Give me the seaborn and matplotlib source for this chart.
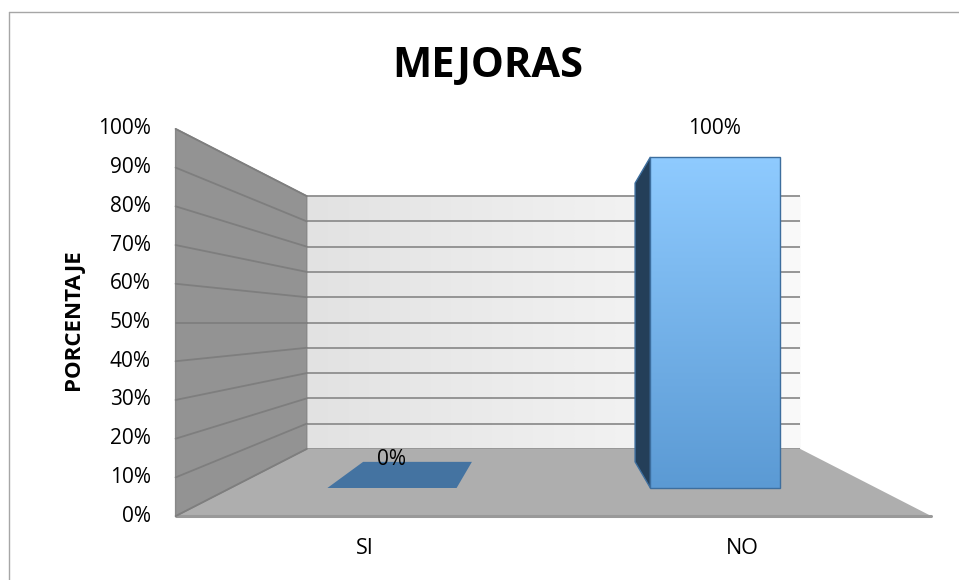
import numpy as np
import matplotlib
matplotlib.use("Agg")
import matplotlib.pyplot as plt
from matplotlib.patches import Polygon
from matplotlib.colors import LinearSegmentedColormap
from matplotlib.lines import Line2D
import seaborn as sns
import pandas as pd

# ---------------- data ----------------
categories = ["SI", "NO"]
values = [0, 100]
value_labels = ["0%", "100%"]
ytick_values = [0, 10, 20, 30, 40, 50, 60, 70, 80, 90, 100]
ytick_labels = ["0%", "10%", "20%", "30%", "40%", "50%", "60%", "70%", "80%", "90%", "100%"]
title = "MEJORAS"
ylabel = "PORCENTAJE"

# ---------------- style ----------------
sns.set_theme(style="white")
plt.rcParams['font.family'] = ['Open Sans', 'DejaVu Sans']
plt.rcParams['text.color'] = '#000000'

W, H = 959, 580
fig = plt.figure(figsize=(W / 100, H / 100), dpi=100)
ax = fig.add_axes([0, 0, 1, 1])

df = pd.DataFrame({"cat": categories, "val": values})
sns.barplot(data=df, x="cat", y="val", width=0.4, ax=ax, color="#6FAEE8",
            saturation=1, edgecolor="#3D6E9E", linewidth=1.0, zorder=6)
bars = list(ax.patches)

# perspective model (vanishing point in bar-front-plane data coordinates)
VP_C, VP_V = 0.5, 50.0
K_FRONT, K_WALL, K_BAR_BACK = 1.17, 0.764, 0.842
C_MIN, C_MAX = -0.5, len(categories) - 0.5
V_MAX = ytick_values[-1]


def proj(c, v, k):
    return (VP_C + (c - VP_C) * k, VP_V + (v - VP_V) * k)


# back wall with horizontal gradient
bw0 = proj(C_MIN, 0, K_WALL)
bw1 = proj(C_MAX, V_MAX, K_WALL)
wall_cmap = LinearSegmentedColormap.from_list("wall", ["#E2E2E2", "#FAFAFA"])
ax.imshow(np.linspace(0, 1, 256).reshape(1, -1), cmap=wall_cmap, aspect="auto",
          extent=(bw0[0], bw1[0], bw0[1], bw1[1]), zorder=1, interpolation="bilinear")
for v in ytick_values:
    a = proj(C_MIN, v, K_WALL)
    b = proj(C_MAX, v, K_WALL)
    ax.plot([a[0], b[0]], [a[1], b[1]], color="#8E8E8E", lw=1.3, zorder=2,
            solid_capstyle="butt")

# floor
floor = [proj(C_MIN, 0, K_FRONT), proj(C_MAX, 0, K_FRONT),
         proj(C_MAX, 0, K_WALL), proj(C_MIN, 0, K_WALL)]
ax.add_patch(Polygon(floor, closed=True, facecolor="#AEAEAE", edgecolor="none", zorder=2.5))
fa, fb = proj(C_MIN, 0, K_FRONT), proj(C_MAX, 0, K_FRONT)
ax.plot([fa[0], fb[0]], [fa[1], fb[1]], color="#999999", lw=2.2, zorder=2.6)

# left side wall
lw_poly = [proj(C_MIN, 0, K_FRONT), proj(C_MIN, V_MAX, K_FRONT),
           proj(C_MIN, V_MAX, K_WALL), proj(C_MIN, 0, K_WALL)]
ax.add_patch(Polygon(lw_poly, closed=True, facecolor="#939393", edgecolor="#888888",
                     lw=1.0, zorder=3))
for v in ytick_values:
    a = proj(C_MIN, v, K_FRONT)
    b = proj(C_MIN, v, K_WALL)
    ax.plot([a[0], b[0]], [a[1], b[1]], color="#7E7E7E", lw=1.3, zorder=4)

# bars: 3D faces derived from the seaborn bar patches
front_cmap = LinearSegmentedColormap.from_list("front", ["#8FCBFF", "#5B9AD4"])
for p, lab in zip(bars, value_labels):
    x0, w, h = p.get_x(), p.get_width(), p.get_height()
    x1 = x0 + w
    # top face (visible when the top lies below the eye level)
    if h < VP_V:
        top = [proj(x0, h, 1), proj(x1, h, 1), proj(x1, h, K_BAR_BACK), proj(x0, h, K_BAR_BACK)]
        ax.add_patch(Polygon(top, closed=True, facecolor="#4473A1", edgecolor="none", zorder=5))
    # side faces
    if h > 0:
        if x0 > VP_C:
            side = [proj(x0, 0, 1), proj(x0, h, 1), proj(x0, h, K_BAR_BACK), proj(x0, 0, K_BAR_BACK)]
        elif x1 < VP_C:
            side = [proj(x1, 0, 1), proj(x1, h, 1), proj(x1, h, K_BAR_BACK), proj(x1, 0, K_BAR_BACK)]
        else:
            side = None
        if side is not None:
            ax.add_patch(Polygon(side, closed=True, facecolor="#243F59", edgecolor="#3D6E9E",
                                 lw=1.0, zorder=5))
        im = ax.imshow(np.linspace(0, 1, 256).reshape(-1, 1), cmap=front_cmap, aspect="auto",
                       extent=(x0, x1, 0, h), origin="upper", zorder=5.5,
                       interpolation="bilinear")
        im.set_clip_path(p)
        p.set_facecolor("none")
    else:
        p.set_linewidth(0)
    ax.annotate(lab, (x0 + w / 2, h), xytext=(0, 20.5), textcoords="offset points",
                ha="center", va="center", fontsize=15, color="#000000", zorder=10)

# y tick labels on the front edge of the side wall
for v, lab in zip(ytick_values, ytick_labels):
    pos = proj(C_MIN, v, K_FRONT)
    ax.annotate(lab, pos, xytext=(-18, 0), textcoords="offset points",
                ha="right", va="center", fontsize=15, color="#000000")

# category labels under the floor front edge
for i, cat in enumerate(categories):
    pos = proj(i, 0, K_FRONT)
    ax.annotate(cat, pos, xytext=(0, -23), textcoords="offset points",
                ha="center", va="center", fontsize=15.5, color="#000000")

# map bar-front-plane data coords onto the figure
X0_PX, PX_PER_CAT = 392.0, 323.0
Y0_PX, PX_PER_PCT = 488.0, 3.31
ax.set_xlim(-X0_PX / PX_PER_CAT, (W - X0_PX) / PX_PER_CAT)
ax.set_ylim((Y0_PX - H) / PX_PER_PCT, Y0_PX / PX_PER_PCT)
ax.axis("off")

fig.text(487.5 / W, 1 - 77 / H, title, fontsize=30, fontweight="bold",
         ha="center", va="baseline", color="#000000")
fig.text(73 / W, 1 - 320 / H, ylabel, fontsize=16, fontweight="bold",
         rotation=90, ha="center", va="center", color="#000000")

# chart border (top and left visible)
fig.add_artist(Line2D([8.5 / W, 8.5 / W], [0, 1 - 11.5 / H], transform=fig.transFigure,
                      color="#A6A6A6", lw=1.0))
fig.add_artist(Line2D([8.5 / W, 1], [1 - 11.5 / H, 1 - 11.5 / H], transform=fig.transFigure,
                      color="#A6A6A6", lw=1.0))

fig.savefig("out.png", dpi=100)
